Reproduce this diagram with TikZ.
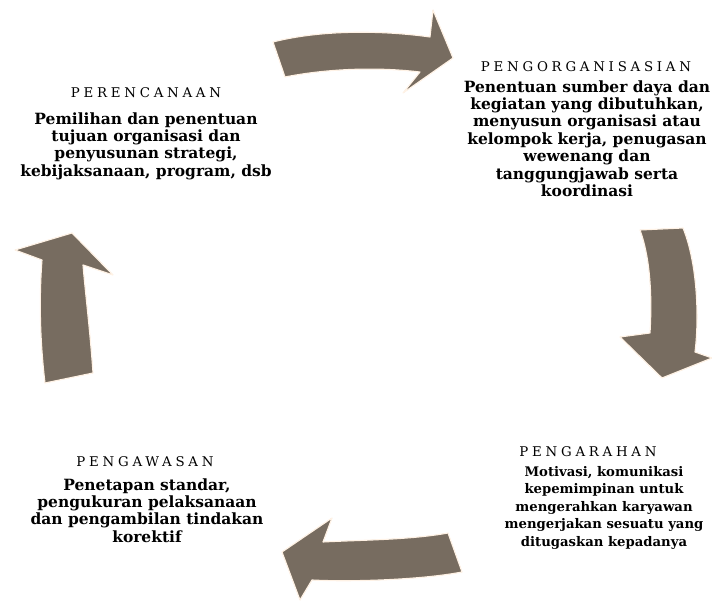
\documentclass[tikz,border=0pt]{standalone}
\usepackage{fontspec}
\setmainfont{DejaVu Serif}
\newfontfamily\titlefont[LetterSpace=28]{DejaVu Serif}
\definecolor{arrowbrown}{RGB}{119,108,96}

\begin{document}
\begin{tikzpicture}[x=0.025cm, y=-0.025cm,
cyclearrow/.style={fill=arrowbrown, draw=orange!10, line width=0.8pt, line join=round},
phasetitle/.style={font=\titlefont\fontsize{9.5}{10}\selectfont, inner sep=0pt},
phasebody/.style={align=center, font=\bfseries\fontsize{11}{12.4}\selectfont, inner sep=0pt}]
\useasboundingbox (0,0) rectangle (712,603);

%Arrows
\fill[cyclearrow] (273,42) .. controls (320,30) and (380,30) .. (430,37) -- (433,10) -- (453,58) -- (403,93) -- (420,72) .. controls (370,66) and (320,70) .. (285,77) -- cycle;
\fill[cyclearrow] (640,230) -- (683,228) .. controls (698,265) and (699,320) .. (695,352) -- (712,358) -- (662,378) -- (620,337) -- (650,333) .. controls (652,300) and (651,260) .. (640,230) -- cycle;
\fill[cyclearrow] (448,533) -- (462,572) .. controls (420,580) and (350,582) .. (312,580) -- (300,600) -- (282,552) -- (332,518) -- (323,542) .. controls (360,540) and (410,540) .. (448,533) -- cycle;
\fill[cyclearrow] (45,383) -- (93,373) .. controls (90,330) and (85,290) .. (83,265) -- (113,275) -- (72,233) -- (15,250) -- (42,260) .. controls (39,300) and (40,340) .. (45,383) -- cycle;

%Perencanaan
\node[phasetitle] (plan) at (146,93) {PERENCANAAN};
\node[phasebody, anchor=north] (planText) at (146,112) {Pemilihan dan penentuan\\tujuan organisasi dan\\penyusunan strategi,\\kebijaksanaan, program, dsb};

%Pengorganisasian
\node[phasetitle] (org) at (586,67) {PENGORGANISASIAN};
\node[phasebody, anchor=north] (orgText) at (587,80) {Penentuan sumber daya dan\\kegiatan yang dibutuhkan,\\menyusun organisasi atau\\kelompok kerja, penugasan\\wewenang dan\\tanggungjawab serta\\koordinasi};

%Pengarahan
\node[phasetitle] (act) at (588,452) {PENGARAHAN};
\node[phasebody, anchor=north, font=\bfseries\fontsize{9.4}{12.4}\selectfont] (actText) at (604,466) {Motivasi, komunikasi\\kepemimpinan untuk\\mengerahkan karyawan\\mengerjakan sesuatu yang\\ditugaskan kepadanya};

%Pengawasan
\node[phasetitle] (ctrl) at (145,462) {PENGAWASAN};
\node[phasebody, anchor=north] (ctrlText) at (147,478) {Penetapan standar,\\pengukuran pelaksanaan\\dan pengambilan tindakan\\korektif};
\end{tikzpicture}
\end{document}
